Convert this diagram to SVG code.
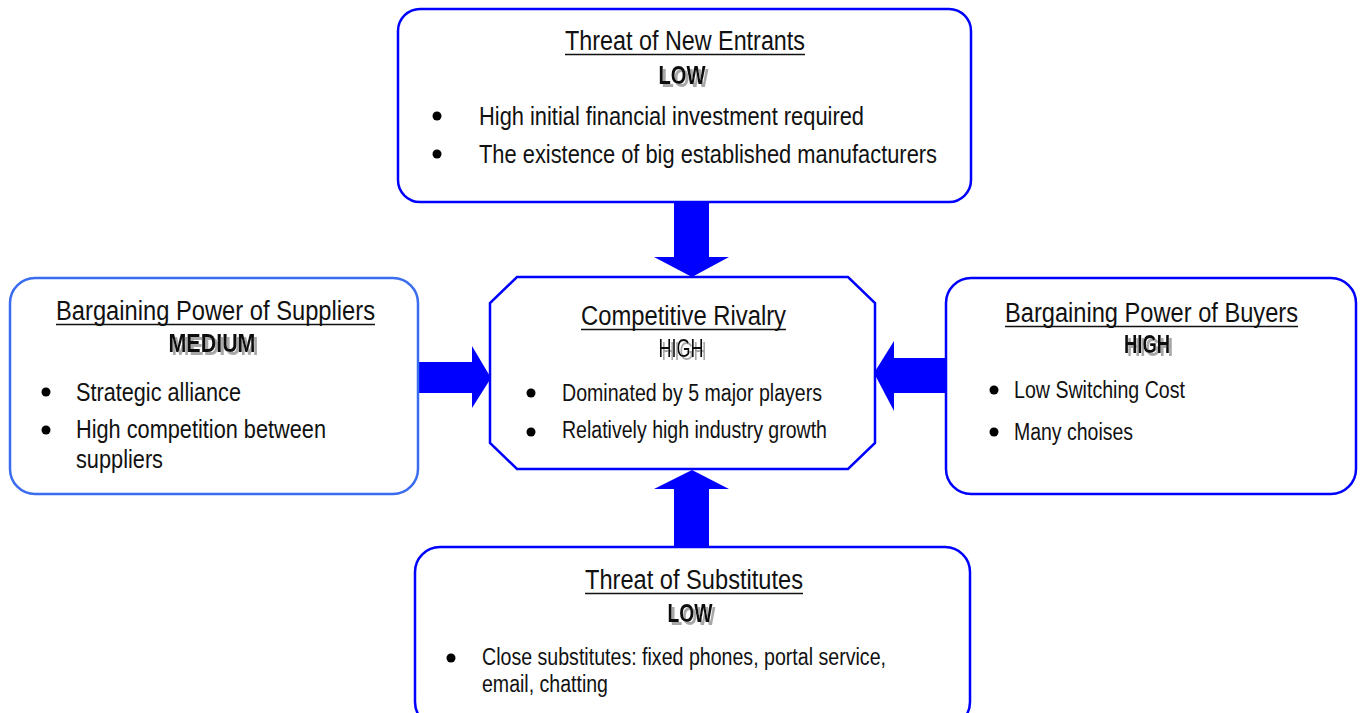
<svg xmlns="http://www.w3.org/2000/svg" width="1364" height="713" viewBox="0 0 1364 713">
<defs>
<filter id="shadow" x="-20%" y="-30%" width="140%" height="160%">
<feDropShadow dx="3" dy="3" stdDeviation="0" flood-color="#a8a8a8" flood-opacity="1"/>
</filter>
</defs>
<style>
.box{fill:#fff;stroke:#0000ff;stroke-width:2.5}
.box2{fill:#fff;stroke:#3a6cf0;stroke-width:2.5}
text{font-family:"Liberation Sans",Arial,sans-serif;fill:#111}
.t{font-size:27px}
.b{font-size:26px}
.bs{font-size:23px}
.lv{font-size:25px;font-weight:bold;text-anchor:middle;filter:url(#shadow)}
.ul{stroke:#111;stroke-width:1.7}
.dot{fill:#000}
.arr{fill:#0000ff}
</style>
<g id="connectors">
<polygon class="arr" points="674,202 709,202 709,257 729,257 692,277 654,257 674,257"/>
<polygon class="arr" points="418,362 472,362 472,346 491,378 472,408 472,393 418,393"/>
<polygon class="arr" points="946,358 894,358 894,341 874,373 894,411 894,393 946,393"/>
<polygon class="arr" points="674,546 709,546 709,489 729,489 692,470 654,489 674,489"/>
</g>
<g id="new-entrants">
<rect class="box" x="398" y="9" width="573" height="193" rx="22"/>
<text class="t" x="565" y="50" textLength="240" lengthAdjust="spacingAndGlyphs">Threat of New Entrants</text>
<line class="ul" x1="565" y1="54.5" x2="805" y2="54.5"/>
<text class="lv" x="682" y="84" textLength="47" lengthAdjust="spacingAndGlyphs">LOW</text>
<circle class="dot" cx="437" cy="116" r="4.5"/>
<text class="b" x="479" y="125" textLength="385" lengthAdjust="spacingAndGlyphs">High initial financial investment required</text>
<circle class="dot" cx="437" cy="154" r="4.5"/>
<text class="b" x="479" y="163" textLength="458" lengthAdjust="spacingAndGlyphs">The existence of big established manufacturers</text>
</g>
<g id="suppliers">
<rect class="box2" x="10" y="278" width="408" height="216" rx="25"/>
<text class="t" x="56" y="320" textLength="319" lengthAdjust="spacingAndGlyphs">Bargaining Power of Suppliers</text>
<line class="ul" x1="56" y1="324.5" x2="375" y2="324.5"/>
<text class="lv" x="212" y="352" textLength="87" lengthAdjust="spacingAndGlyphs">MEDIUM</text>
<circle class="dot" cx="46" cy="392" r="4.5"/>
<text class="b" x="76" y="401" textLength="165" lengthAdjust="spacingAndGlyphs">Strategic alliance</text>
<circle class="dot" cx="46" cy="430" r="4.5"/>
<text class="b" x="76" y="438" textLength="250" lengthAdjust="spacingAndGlyphs">High competition between</text>
<text class="b" x="76" y="468" textLength="87" lengthAdjust="spacingAndGlyphs">suppliers</text>
</g>
<g id="rivalry">
<polygon class="box" points="517,277 848,277 875,303 875,443 848,469 517,469 490,443 490,303"/>
<text class="t" x="581" y="325" textLength="205" lengthAdjust="spacingAndGlyphs">Competitive Rivalry</text>
<line class="ul" x1="581" y1="329.5" x2="786" y2="329.5"/>
<text class="lv" x="681" y="357" textLength="45" lengthAdjust="spacingAndGlyphs" style="font-weight:normal">HIGH</text>
<circle class="dot" cx="531" cy="393" r="4.5"/>
<text class="bs" x="562" y="401" textLength="260" lengthAdjust="spacingAndGlyphs">Dominated by 5 major players</text>
<circle class="dot" cx="531" cy="432" r="4.5"/>
<text class="bs" x="562" y="438" textLength="265" lengthAdjust="spacingAndGlyphs">Relatively high industry growth</text>
</g>
<g id="buyers">
<rect class="box" x="946" y="278" width="410" height="216" rx="25"/>
<text class="t" x="1005" y="322" textLength="293" lengthAdjust="spacingAndGlyphs">Bargaining Power of Buyers</text>
<line class="ul" x1="1005" y1="326.5" x2="1298" y2="326.5"/>
<text class="lv" x="1147" y="353" textLength="46" lengthAdjust="spacingAndGlyphs">HIGH</text>
<circle class="dot" cx="994" cy="390" r="4.5"/>
<text class="bs" x="1014" y="398" textLength="171" lengthAdjust="spacingAndGlyphs">Low Switching Cost</text>
<circle class="dot" cx="994" cy="432" r="4.5"/>
<text class="bs" x="1014" y="440" textLength="119" lengthAdjust="spacingAndGlyphs">Many choises</text>
</g>
<g id="substitutes">
<rect class="box" x="415" y="547" width="555" height="180" rx="25"/>
<text class="t" x="585" y="589" textLength="218" lengthAdjust="spacingAndGlyphs">Threat of Substitutes</text>
<line class="ul" x1="585" y1="593.5" x2="803" y2="593.5"/>
<text class="lv" x="690" y="622" textLength="45" lengthAdjust="spacingAndGlyphs">LOW</text>
<circle class="dot" cx="451" cy="658" r="4.5"/>
<text class="bs" x="482" y="665" textLength="404" lengthAdjust="spacingAndGlyphs">Close substitutes: fixed phones, portal service,</text>
<text class="bs" x="482" y="692" textLength="126" lengthAdjust="spacingAndGlyphs">email, chatting</text>
</g>
</svg>
